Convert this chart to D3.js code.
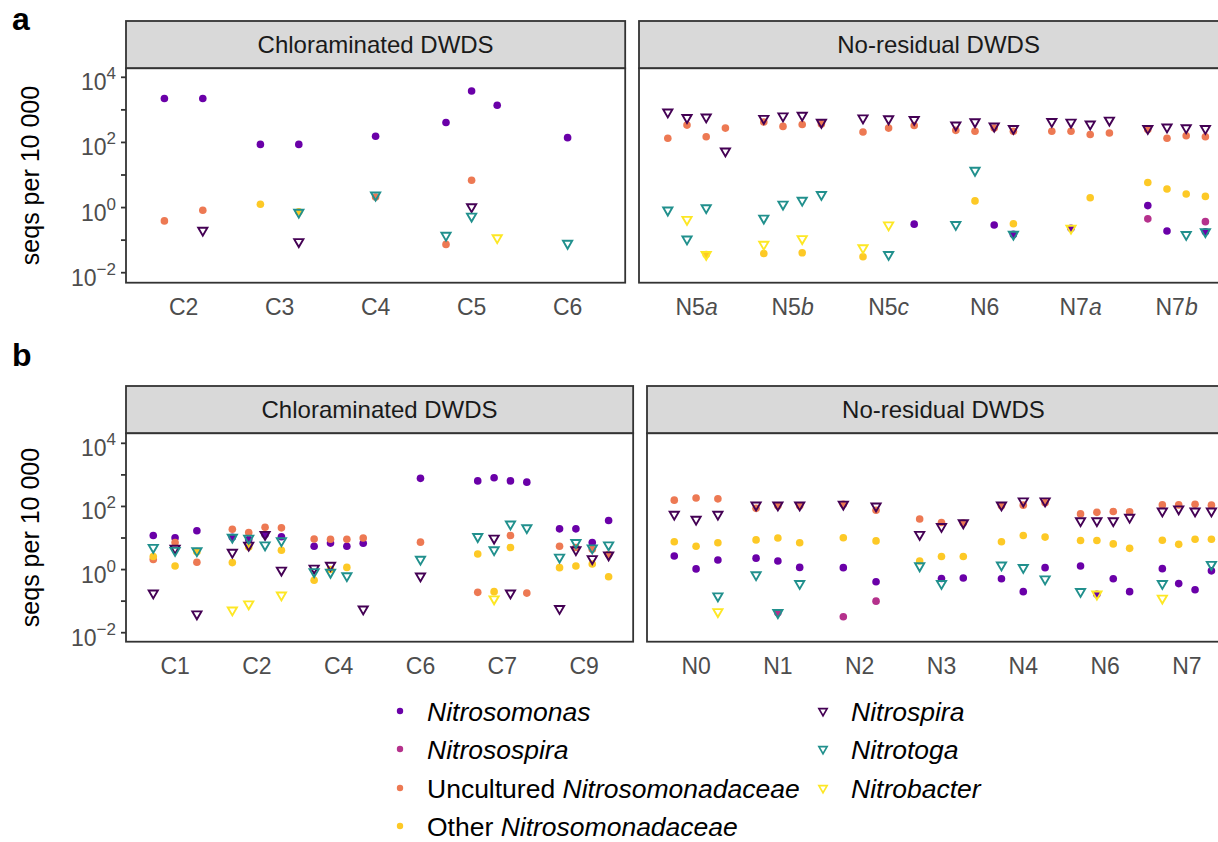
<!DOCTYPE html>
<html>
<head>
<meta charset="utf-8">
<script src="https://cdn.jsdelivr.net/npm/d3@7"></script>
<style>
  body { margin: 0; background: #fff; }
  text { font-family: "Liberation Sans", Arial, sans-serif; }
</style>
</head>
<body>
<script>
// categories and number of samples per category, one pair per facet
var catsAchl = ["C2", "C3", "C4", "C5", "C6"],        nAchl = [2, 2, 1, 3, 1];
var catsAnr  = ["N5a", "N5b", "N5c", "N6", "N7a", "N7b"], nAnr = [4, 4, 3, 4, 4, 4];
var catsBchl = ["C1", "C2", "C4", "C6", "C7", "C9"], nBchl = [3, 4, 4, 1, 4, 4];
var catsBnr  = ["N0", "N1", "N2", "N3", "N4", "N6", "N7"], nBnr = [3, 3, 2, 3, 3, 4, 4];

var facetTitles = ["Chloraminated DWDS", "No-residual DWDS"];
var yTickExps = [-2, -1, 0, 1, 2, 3, 4];
var yLabelExps = [-2, 0, 2, 4];

// [row, category, sample, seqs per 10 000]
var nitrosomonas = [
  ["a","C2",1,2240],["a","C2",2,2240],["a","C3",1,87],["a","C3",2,87],["a","C4",1,155],
  ["a","C5",1,410],["a","C5",2,3800],["a","C5",3,1380],["a","C6",1,140],
  ["a","N5c",3,0.31],["a","N6",3,0.29],["a","N6",4,0.15],["a","N7a",2,0.23],
  ["a","N7b",1,1.15],["a","N7b",2,0.19],["a","N7b",4,0.18],
  ["b","C1",1,12],["b","C1",2,10.2],["b","C1",3,17],["b","C2",1,10.5],["b","C2",2,8.9],["b","C2",3,12.9],["b","C2",4,11],
  ["b","C4",1,5.5],["b","C4",2,6.9],["b","C4",3,5.5],["b","C4",4,6.8],["b","C6",1,776],
  ["b","C7",1,645],["b","C7",2,813],["b","C7",3,645],["b","C7",4,589],
  ["b","C9",1,19.5],["b","C9",2,19.5],["b","C9",3,7.2],["b","C9",4,36],
  ["b","N0",1,2.7],["b","N0",2,1.05],["b","N0",3,2.0],["b","N1",1,2.3],["b","N1",2,1.86],["b","N1",3,1.17],
  ["b","N2",1,1.15],["b","N2",2,0.41],["b","N3",2,0.52],["b","N3",3,0.54],
  ["b","N4",1,0.51],["b","N4",2,0.2],["b","N4",3,1.15],["b","N6",1,1.3],["b","N6",2,0.166],["b","N6",3,0.51],["b","N6",4,0.2],
  ["b","N7",1,1.07],["b","N7",2,0.36],["b","N7",3,0.23],["b","N7",4,0.91]
];
var nitrosospira = [
  ["a","N7b",1,0.45],["a","N7b",4,0.37],["b","N1",2,0.043],["b","N2",1,0.032],["b","N2",2,0.10]
];
var uncultured = [
  ["a","C2",1,0.39],["a","C2",2,0.83],["a","C4",1,2.1],["a","C5",1,0.074],["a","C5",2,6.9],
  ["a","N5a",1,135],["a","N5a",2,340],["a","N5a",3,150],["a","N5a",4,275],
  ["a","N5b",1,425],["a","N5b",2,310],["a","N5b",3,355],["a","N5b",4,370],
  ["a","N5c",1,210],["a","N5c",2,275],["a","N5c",3,330],
  ["a","N6",1,235],["a","N6",2,220],["a","N6",3,275],["a","N6",4,220],
  ["a","N7a",1,220],["a","N7a",2,220],["a","N7a",3,175],["a","N7a",4,195],
  ["a","N7b",1,250],["a","N7b",2,135],["a","N7b",3,160],["a","N7b",4,150],
  ["b","C1",1,2.1],["b","C1",2,7.2],["b","C1",3,1.7],["b","C2",1,19],["b","C2",2,15],["b","C2",3,22],["b","C2",4,21],
  ["b","C4",1,9.3],["b","C4",2,9.1],["b","C4",3,9.1],["b","C4",4,10],["b","C6",1,7.4],
  ["b","C7",1,0.19],["b","C7",3,12],["b","C7",4,0.18],["b","C9",1,5.5],["b","C9",2,5.0],["b","C9",3,4.4],["b","C9",4,3.0],
  ["b","N0",1,158],["b","N0",2,186],["b","N0",3,174],["b","N1",1,87],["b","N1",2,105],["b","N1",3,105],
  ["b","N2",1,117],["b","N2",2,76],["b","N3",1,40],["b","N3",2,31],["b","N3",3,30],
  ["b","N4",1,105],["b","N4",2,110],["b","N4",3,132],["b","N6",1,58],["b","N6",2,65],["b","N6",3,69],["b","N6",4,68],
  ["b","N7",1,112],["b","N7",2,112],["b","N7",3,117],["b","N7",4,110]
];
var otherNitroso = [
  ["a","C3",1,1.26],["a","C3",2,0.74],
  ["a","N5a",3,0.036],["a","N5b",1,0.039],["a","N5b",3,0.041],["a","N5c",1,0.031],["a","N6",2,1.6],["a","N6",4,0.32],
  ["a","N7a",3,2.0],["a","N7b",1,5.9],["a","N7b",2,3.7],["a","N7b",3,2.6],["a","N7b",4,2.2],
  ["b","C1",1,2.6],["b","C1",2,1.3],["b","C1",3,3.7],["b","C2",1,1.66],["b","C2",2,5.2],["b","C2",4,4.1],
  ["b","C4",1,0.46],["b","C4",2,1.0],["b","C4",3,1.17],["b","C7",1,3.1],["b","C7",2,0.2],["b","C7",3,5.0],
  ["b","C9",1,1.15],["b","C9",2,1.3],["b","C9",3,1.5],["b","C9",4,0.59],
  ["b","N0",1,7.6],["b","N0",2,5.5],["b","N0",3,7.1],["b","N1",1,8.7],["b","N1",2,10],["b","N1",3,7.1],
  ["b","N2",1,10.2],["b","N2",2,8.1],["b","N3",1,1.86],["b","N3",2,2.6],["b","N3",3,2.6],
  ["b","N4",1,7.6],["b","N4",2,12],["b","N4",3,10.7],["b","N6",1,8.3],["b","N6",2,8.3],["b","N6",3,6.5],["b","N6",4,4.7],
  ["b","N7",1,8.5],["b","N7",2,6.3],["b","N7",3,9.1],["b","N7",4,9.1]
];
var nitrospira = [
  ["a","C2",2,0.2],["a","C3",2,0.089],["a","C5",2,1.05],
  ["a","N5a",1,850],["a","N5a",2,575],["a","N5a",3,600],["a","N5a",4,54],
  ["a","N5b",1,540],["a","N5b",2,645],["a","N5b",3,675],["a","N5b",4,410],
  ["a","N5c",1,560],["a","N5c",2,525],["a","N5c",3,500],
  ["a","N6",1,340],["a","N6",2,425],["a","N6",3,315],["a","N6",4,265],
  ["a","N7a",1,435],["a","N7a",2,415],["a","N7a",3,365],["a","N7a",4,480],
  ["a","N7b",1,265],["a","N7b",2,295],["a","N7b",3,280],["a","N7b",4,265],
  ["b","C1",1,0.18],["b","C1",2,4.7],["b","C1",3,0.039],["b","C2",1,3.5],["b","C2",2,5.9],["b","C2",3,12.9],["b","C2",4,0.95],
  ["b","C4",1,1.1],["b","C4",2,1.35],["b","C4",4,0.056],["b","C6",1,0.62],["b","C7",2,9.8],["b","C7",3,0.18],
  ["b","C9",1,0.058],["b","C9",2,4.2],["b","C9",3,2.2],["b","C9",4,2.9],
  ["b","N0",1,56],["b","N0",2,39],["b","N0",3,56],["b","N1",1,110],["b","N1",2,110],["b","N1",3,110],
  ["b","N2",1,117],["b","N2",2,102],["b","N3",1,12.9],["b","N3",2,23],["b","N3",3,30],
  ["b","N4",1,110],["b","N4",2,148],["b","N4",3,148],["b","N6",1,35],["b","N6",2,35],["b","N6",3,35],["b","N6",4,45],
  ["b","N7",1,71],["b","N7",2,83],["b","N7",3,71],["b","N7",4,71]
];
var nitrotoga = [
  ["a","C3",2,0.71],["a","C4",1,2.4],["a","C5",1,0.14],["a","C5",2,0.54],["a","C6",1,0.079],
  ["a","N5a",1,0.83],["a","N5a",2,0.107],["a","N5a",3,0.98],["a","N5b",1,0.47],["a","N5b",2,1.26],["a","N5b",3,1.66],["a","N5b",4,2.5],
  ["a","N5c",2,0.036],["a","N6",1,0.30],["a","N6",2,13.8],["a","N6",4,0.15],["a","N7b",3,0.148],["a","N7b",4,0.18],
  ["b","C1",1,5.0],["b","C1",2,4.0],["b","C1",3,3.9],["b","C2",1,10.5],["b","C2",2,9.8],["b","C2",3,6.0],["b","C2",4,8.1],
  ["b","C4",1,0.85],["b","C4",2,0.81],["b","C4",3,0.63],["b","C6",1,2.1],
  ["b","C7",1,11],["b","C7",2,4.2],["b","C7",3,27.5],["b","C7",4,21],["b","C9",1,2.45],["b","C9",2,7.1],["b","C9",3,4.8],["b","C9",4,6.0],
  ["b","N0",3,0.145],["b","N1",1,0.68],["b","N1",2,0.043],["b","N1",3,0.36],["b","N3",1,1.3],["b","N3",2,0.36],
  ["b","N4",1,1.38],["b","N4",2,1.15],["b","N4",3,0.5],["b","N6",1,0.2],["b","N7",1,0.36],["b","N7",4,1.45]
];
var nitrobacter = [
  ["a","C5",3,0.117],
  ["a","N5a",2,0.43],["a","N5a",3,0.036],["a","N5b",1,0.074],["a","N5b",3,0.11],["a","N5c",1,0.058],["a","N5c",2,0.29],["a","N7a",2,0.23],
  ["b","C2",1,0.052],["b","C2",2,0.081],["b","C2",4,0.155],["b","C7",2,0.117],
  ["b","N0",3,0.046],["b","N6",2,0.166],["b","N7",1,0.123]
];

var taxa = [
  {name: "Nitrosomonas", pre: "", data: nitrosomonas, color: "#6a00a8", shape: "circle"},
  {name: "Nitrosospira", pre: "", data: nitrosospira, color: "#b5318c", shape: "circle"},
  {name: "Nitrosomonadaceae", pre: "Uncultured ", data: uncultured, color: "#ed7953", shape: "circle"},
  {name: "Nitrosomonadaceae", pre: "Other ", data: otherNitroso, color: "#fdc926", shape: "circle"},
  {name: "Nitrospira", pre: "", data: nitrospira, color: "#440154", shape: "tri"},
  {name: "Nitrotoga", pre: "", data: nitrotoga, color: "#21908d", shape: "tri"},
  {name: "Nitrobacter", pre: "", data: nitrobacter, color: "#fde725", shape: "tri"}
];

var W = 1218, H = 842;
var svg = d3.select("body").append("svg").attr("width", W).attr("height", H);

var rows = {
  a: {stripTop: 21, top: 68.3, bottom: 282.7, lo: -2.307, hi: 4.276, labelY: 315, tagY: 30, step: 96},
  b: {stripTop: 386, top: 433.3, bottom: 641.7, lo: -2.285, hi: 4.317, labelY: 674, tagY: 366, step: 81.8}
};
var facets = [
  {row: "a", side: 0, cats: catsAchl, n: nAchl, x0: 126},
  {row: "a", side: 1, cats: catsAnr,  n: nAnr,  x0: 639},
  {row: "b", side: 0, cats: catsBchl, n: nBchl, x0: 126},
  {row: "b", side: 1, cats: catsBnr,  n: nBnr,  x0: 647}
];

var tri = "M-4.6,-2.65L4.6,-2.65L0,5.3Z";

facets.forEach(function(f) {
  var r = rows[f.row];
  var x1 = f.x0 + r.step * (f.cats.length + 0.2);
  var x = d3.scalePoint().domain(f.cats).range([f.x0, x1]).padding(0.6);
  var y = d3.scaleLog().domain([Math.pow(10, r.lo), Math.pow(10, r.hi)]).range([r.bottom, r.top]);
  var g = svg.append("g");

  // strip
  g.append("rect").attr("x", f.x0).attr("y", r.stripTop).attr("width", x1 - f.x0).attr("height", r.top - r.stripTop)
    .attr("fill", "#d9d9d9").attr("stroke", "#333").attr("stroke-width", 1.8);
  g.append("text").attr("x", (f.x0 + x1) / 2 + (f.side ? 2 : 0))
    .attr("y", (r.stripTop + r.top) / 2 + 8.5).attr("text-anchor", "middle")
    .attr("font-size", 24).attr("fill", "#1a1a1a").text(facetTitles[f.side]);

  // panel background
  g.append("rect").attr("x", f.x0).attr("y", r.top).attr("width", x1 - f.x0).attr("height", r.bottom - r.top)
    .attr("fill", "#fff");

  function px(d) {
    var i = f.cats.indexOf(d[1]), n = f.n[i], w = 0.8 * r.step / n;
    return x(d[1]) + (d[2] - (n + 1) / 2) * w;
  }
  var pts = g.append("g");
  taxa.forEach(function(t) {
    var rowsData = t.data.filter(function(d) { return d[0] === f.row && f.cats.indexOf(d[1]) >= 0; });
    if (t.shape === "circle") {
      pts.selectAll(null).data(rowsData).enter().append("circle")
        .attr("cx", px).attr("cy", function(d) { return y(d[3]); }).attr("r", 3.8)
        .attr("fill", t.color);
    }
  });
  taxa.forEach(function(t) {
    var rowsData = t.data.filter(function(d) { return d[0] === f.row && f.cats.indexOf(d[1]) >= 0; });
    if (t.shape === "tri") {
      pts.selectAll(null).data(rowsData).enter().append("path")
        .attr("d", tri)
        .attr("transform", function(d) { return "translate(" + px(d) + "," + y(d[3]) + ")"; })
        .attr("fill", "none").attr("stroke", t.color).attr("stroke-width", 1.9);
    }
  });

  // border
  g.append("rect").attr("x", f.x0).attr("y", r.top).attr("width", x1 - f.x0).attr("height", r.bottom - r.top)
    .attr("fill", "none").attr("stroke", "#333").attr("stroke-width", 1.8);

  // x labels
  f.cats.forEach(function(c) {
    var t = g.append("text").attr("x", x(c)).attr("y", r.labelY).attr("text-anchor", "middle")
      .attr("font-size", 23).attr("fill", "#4d4d4d");
    var m = c.match(/^(N\d)([a-z])$/);
    if (m) {
      t.append("tspan").text(m[1]);
      t.append("tspan").attr("font-style", "italic").text(m[2]);
    } else {
      t.text(c);
    }
  });

  // y axis on left facets
  if (f.side === 0) {
    yTickExps.forEach(function(e) {
      var yy = y(Math.pow(10, e));
      g.append("line").attr("x1", f.x0 - 5).attr("x2", f.x0).attr("y1", yy).attr("y2", yy)
        .attr("stroke", "#333").attr("stroke-width", 1.8);
    });
    yLabelExps.forEach(function(e) {
      var yy = y(Math.pow(10, e));
      var t = g.append("text").attr("x", f.x0 - 10).attr("y", yy + 13).attr("text-anchor", "end")
        .attr("fill", "#4d4d4d").attr("font-size", 23);
      t.append("tspan").text("10");
      t.append("tspan").attr("font-size", 17).attr("dy", -11).text(e < 0 ? "\u2212" + (-e) : e);
    });
    g.append("text").attr("transform", "translate(39," + (r.top + r.bottom) / 2 + ") rotate(-90)")
      .attr("text-anchor", "middle").attr("font-size", 25).attr("fill", "#000").text("seqs per 10 000");
    svg.append("text").attr("x", 12).attr("y", r.tagY).attr("font-size", 32).attr("font-weight", "bold")
      .attr("fill", "#000").text(f.row);
  }
});

// legend
var legRowY = [711, 749, 788, 826];
var leg = svg.append("g");
taxa.forEach(function(t, i) {
  var col = t.shape === "circle" ? 0 : 1;
  var row = col === 0 ? i : i - 4;
  var sx = col === 0 ? 400 : 823, tx = col === 0 ? 427 : 851, yy = legRowY[row];
  if (t.shape === "circle") {
    leg.append("circle").attr("cx", sx).attr("cy", yy).attr("r", 3.2).attr("fill", t.color);
  } else {
    leg.append("path").attr("d", tri).attr("transform", "translate(" + sx + "," + yy + ") scale(0.9)")
      .attr("fill", "none").attr("stroke", t.color).attr("stroke-width", 1.8);
  }
  var tt = leg.append("text").attr("x", tx).attr("y", yy + 9.5).attr("font-size", 26.5).attr("fill", "#000");
  if (t.pre) tt.append("tspan").text(t.pre);
  tt.append("tspan").attr("font-style", "italic").text(t.name);
});
</script>
</body>
</html>
